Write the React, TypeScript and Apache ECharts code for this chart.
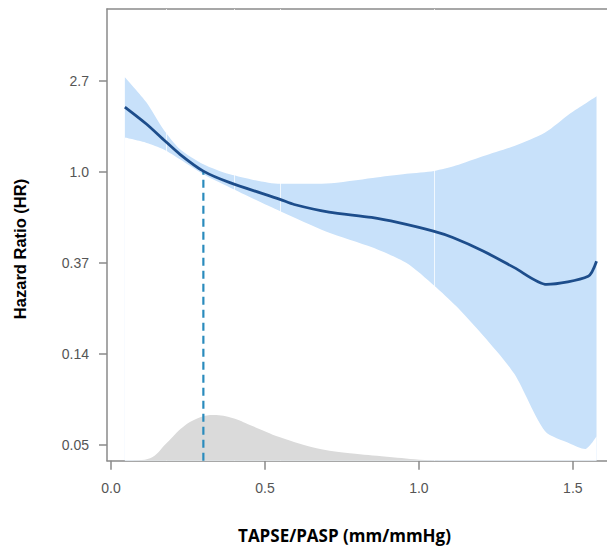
import React, { useEffect, useRef } from "react";
import * as echarts from "echarts";

// Spline curve of HR (hazard ratio) vs TAPSE/PASP
const curveX = [0.045, 0.116, 0.17, 0.224, 0.30, 0.386, 0.549, 0.595, 0.708, 0.846, 0.934, 1.047, 1.11, 1.21, 1.31, 1.415, 1.55, 1.577];
const curveHR = [2.04, 1.69, 1.43, 1.215, 1.01, 0.89, 0.741, 0.70, 0.644, 0.607, 0.573, 0.522, 0.487, 0.419, 0.35, 0.291, 0.318, 0.375];

// 95% CI band (common x grid)
const bandX = [0.045, 0.116, 0.17, 0.224, 0.30, 0.386, 0.55, 0.70, 0.85, 0.96, 1.05, 1.12, 1.21, 1.31, 1.41, 1.49, 1.54, 1.577];
const bandUpperHR = [2.83, 2.14, 1.6, 1.284, 1.089, 0.975, 0.878, 0.882, 0.937, 0.98, 1.012, 1.073, 1.192, 1.331, 1.542, 1.896, 2.117, 2.3];
const bandLowerHR = [1.459, 1.377, 1.284, 1.15, 0.975, 0.844, 0.65, 0.519, 0.436, 0.368, 0.287, 0.23, 0.165, 0.109, 0.058, 0.0508, 0.0478, 0.055];

// Distribution of TAPSE/PASP (relative density)
const densityX = [0.07, 0.127, 0.18, 0.235, 0.29, 0.333, 0.397, 0.451, 0.549, 0.668, 0.776, 0.896, 1.02, 1.07];
const densityY = [0, 0.053, 0.385, 0.753, 0.96, 1.01, 0.94, 0.79, 0.518, 0.275, 0.164, 0.089, 0.015, 0];

// Reference (HR = 1) cut-off
const refX = 0.30;
const refHR = 1.0;

// Knot lines
const knotX = [0.18, 0.395, 0.55, 1.05];

// Axes
const xTickValues = [0, 0.5, 1, 1.5];
const xTickLabels = ["0.0", "0.5", "1.0", "1.5"];
const yTickPowers = [-3, -2, -1, 0, 1];
const yTickLabels = ["0.05", "0.14", "0.37", "1.0", "2.7"];

const X_MIN = -0.013;
const X_MAX = 1.611;
const Y_MIN = -3.17;
const Y_MAX = 1.79;

const ln = (v: number) => Math.log(v);

export default function App() {
  const ref = useRef<HTMLDivElement>(null);
  useEffect(() => {
    if (!ref.current) return;
    const chart = echarts.init(ref.current, null, { renderer: "svg" });
    const axisGray = "#8a8a8a";
    const labelStyle = {
      color: "#555555",
      fontSize: 14,
      fontFamily: "Liberation Sans, Arial, sans-serif",
    };
    const option: any = {
      animation: false,
      grid: { left: 107, right: 0, top: 9, bottom: 85.3 },
      xAxis: [
        {
          type: "value",
          min: X_MIN,
          max: X_MAX,
          axisLine: { show: true, onZero: false, lineStyle: { color: axisGray, width: 1.5 } },
          axisTick: { show: true, length: 9, customValues: xTickValues, lineStyle: { color: axisGray, width: 1.5 } },
          axisLabel: {
            ...labelStyle,
            margin: 20,
            customValues: xTickValues,
            formatter: (v: number) => {
              const i = xTickValues.findIndex((t) => Math.abs(t - v) < 1e-6);
              return i >= 0 ? xTickLabels[i] : "";
            },
          },
          splitLine: { show: false },
        },
        {
          type: "value",
          position: "top",
          min: X_MIN,
          max: X_MAX,
          axisLine: { show: true, onZero: false, lineStyle: { color: axisGray, width: 1.5 } },
          axisTick: { show: false },
          axisLabel: { show: false },
          splitLine: { show: false },
        },
      ],
      yAxis: [
        {
          type: "value",
          min: Y_MIN,
          max: Y_MAX,
          axisLine: { show: true, onZero: false, lineStyle: { color: axisGray, width: 1.5 } },
          axisTick: { show: true, length: 8, customValues: yTickPowers, lineStyle: { color: axisGray, width: 1.5 } },
          axisLabel: {
            ...labelStyle,
            margin: 18,
            customValues: yTickPowers,
            formatter: (v: number) => {
              const i = yTickPowers.findIndex((t) => Math.abs(t - v) < 1e-6);
              return i >= 0 ? yTickLabels[i] : "";
            },
          },
          splitLine: { show: false },
        },
        {
          type: "value",
          min: 0,
          max: 10,
          show: false,
          splitLine: { show: false },
        },
      ],
      series: [
        {
          name: "upper",
          type: "line",
          data: bandX.map((x, i) => [x, ln(bandUpperHR[i])]),
          smooth: 0.25,
          symbol: "none",
          lineStyle: { width: 0, opacity: 0 },
          areaStyle: { color: "#c8e1fa", opacity: 1, origin: "start" },
          z: 1,
          silent: true,
        },
        {
          name: "lower",
          type: "line",
          data: bandX.map((x, i) => [x, ln(bandLowerHR[i])]),
          smooth: 0.25,
          symbol: "none",
          lineStyle: { width: 0, opacity: 0 },
          areaStyle: { color: "#ffffff", opacity: 1, origin: "start" },
          z: 2,
          silent: true,
        },
        {
          name: "density",
          type: "line",
          yAxisIndex: 1,
          data: densityX.map((x, i) => [x, densityY[i]]),
          smooth: 0.4,
          symbol: "none",
          lineStyle: { width: 0, opacity: 0 },
          areaStyle: { color: "#dadada", opacity: 1, origin: "start" },
          z: 3,
          silent: true,
        },
        {
          name: "knots",
          type: "line",
          data: [],
          z: 3,
          silent: true,
          markLine: {
            silent: true,
            symbol: "none",
            z: 3,
            label: { show: false },
            lineStyle: { color: "#ffffff", width: 1, type: "solid", opacity: 0.75 },
            data: knotX.map((x) => ({ xAxis: x })),
          },
        },
        {
          name: "ref",
          type: "line",
          data: [
            [refX, Y_MIN],
            [refX, ln(refHR)],
          ],
          symbol: "none",
          lineStyle: { color: "#2a8bbd", width: 2.2, type: [8, 5] },
          z: 4,
          silent: true,
        },
        {
          name: "HR",
          type: "line",
          data: curveX.map((x, i) => [x, ln(curveHR[i])]),
          smooth: 0.25,
          symbol: "none",
          lineStyle: { color: "#1d4d8b", width: 2.8 },
          z: 5,
          silent: true,
        },
      ],
      graphic: [
        {
          type: "text",
          x: 19.5,
          y: 249,
          rotation: Math.PI / 2,
          style: {
            text: "Hazard Ratio (HR)",
            fill: "#000000",
            font: "bold 16.5px 'Liberation Sans', Arial, sans-serif",
            align: "center",
            verticalAlign: "middle",
          },
        },
        {
          type: "text",
          x: 344.5,
          y: 535,
          style: {
            text: "TAPSE/PASP (mm/mmHg)",
            fill: "#000000",
            font: "bold 17px 'Open Sans', sans-serif",
            align: "center",
            verticalAlign: "middle",
          },
        },
      ],
    };
    chart.setOption(option);
    return () => chart.dispose();
  }, []);
  return (
    <div
      ref={ref}
      style={{ position: "absolute", left: 0, top: 0, width: 607, height: 546 }}
    />
  );
}
